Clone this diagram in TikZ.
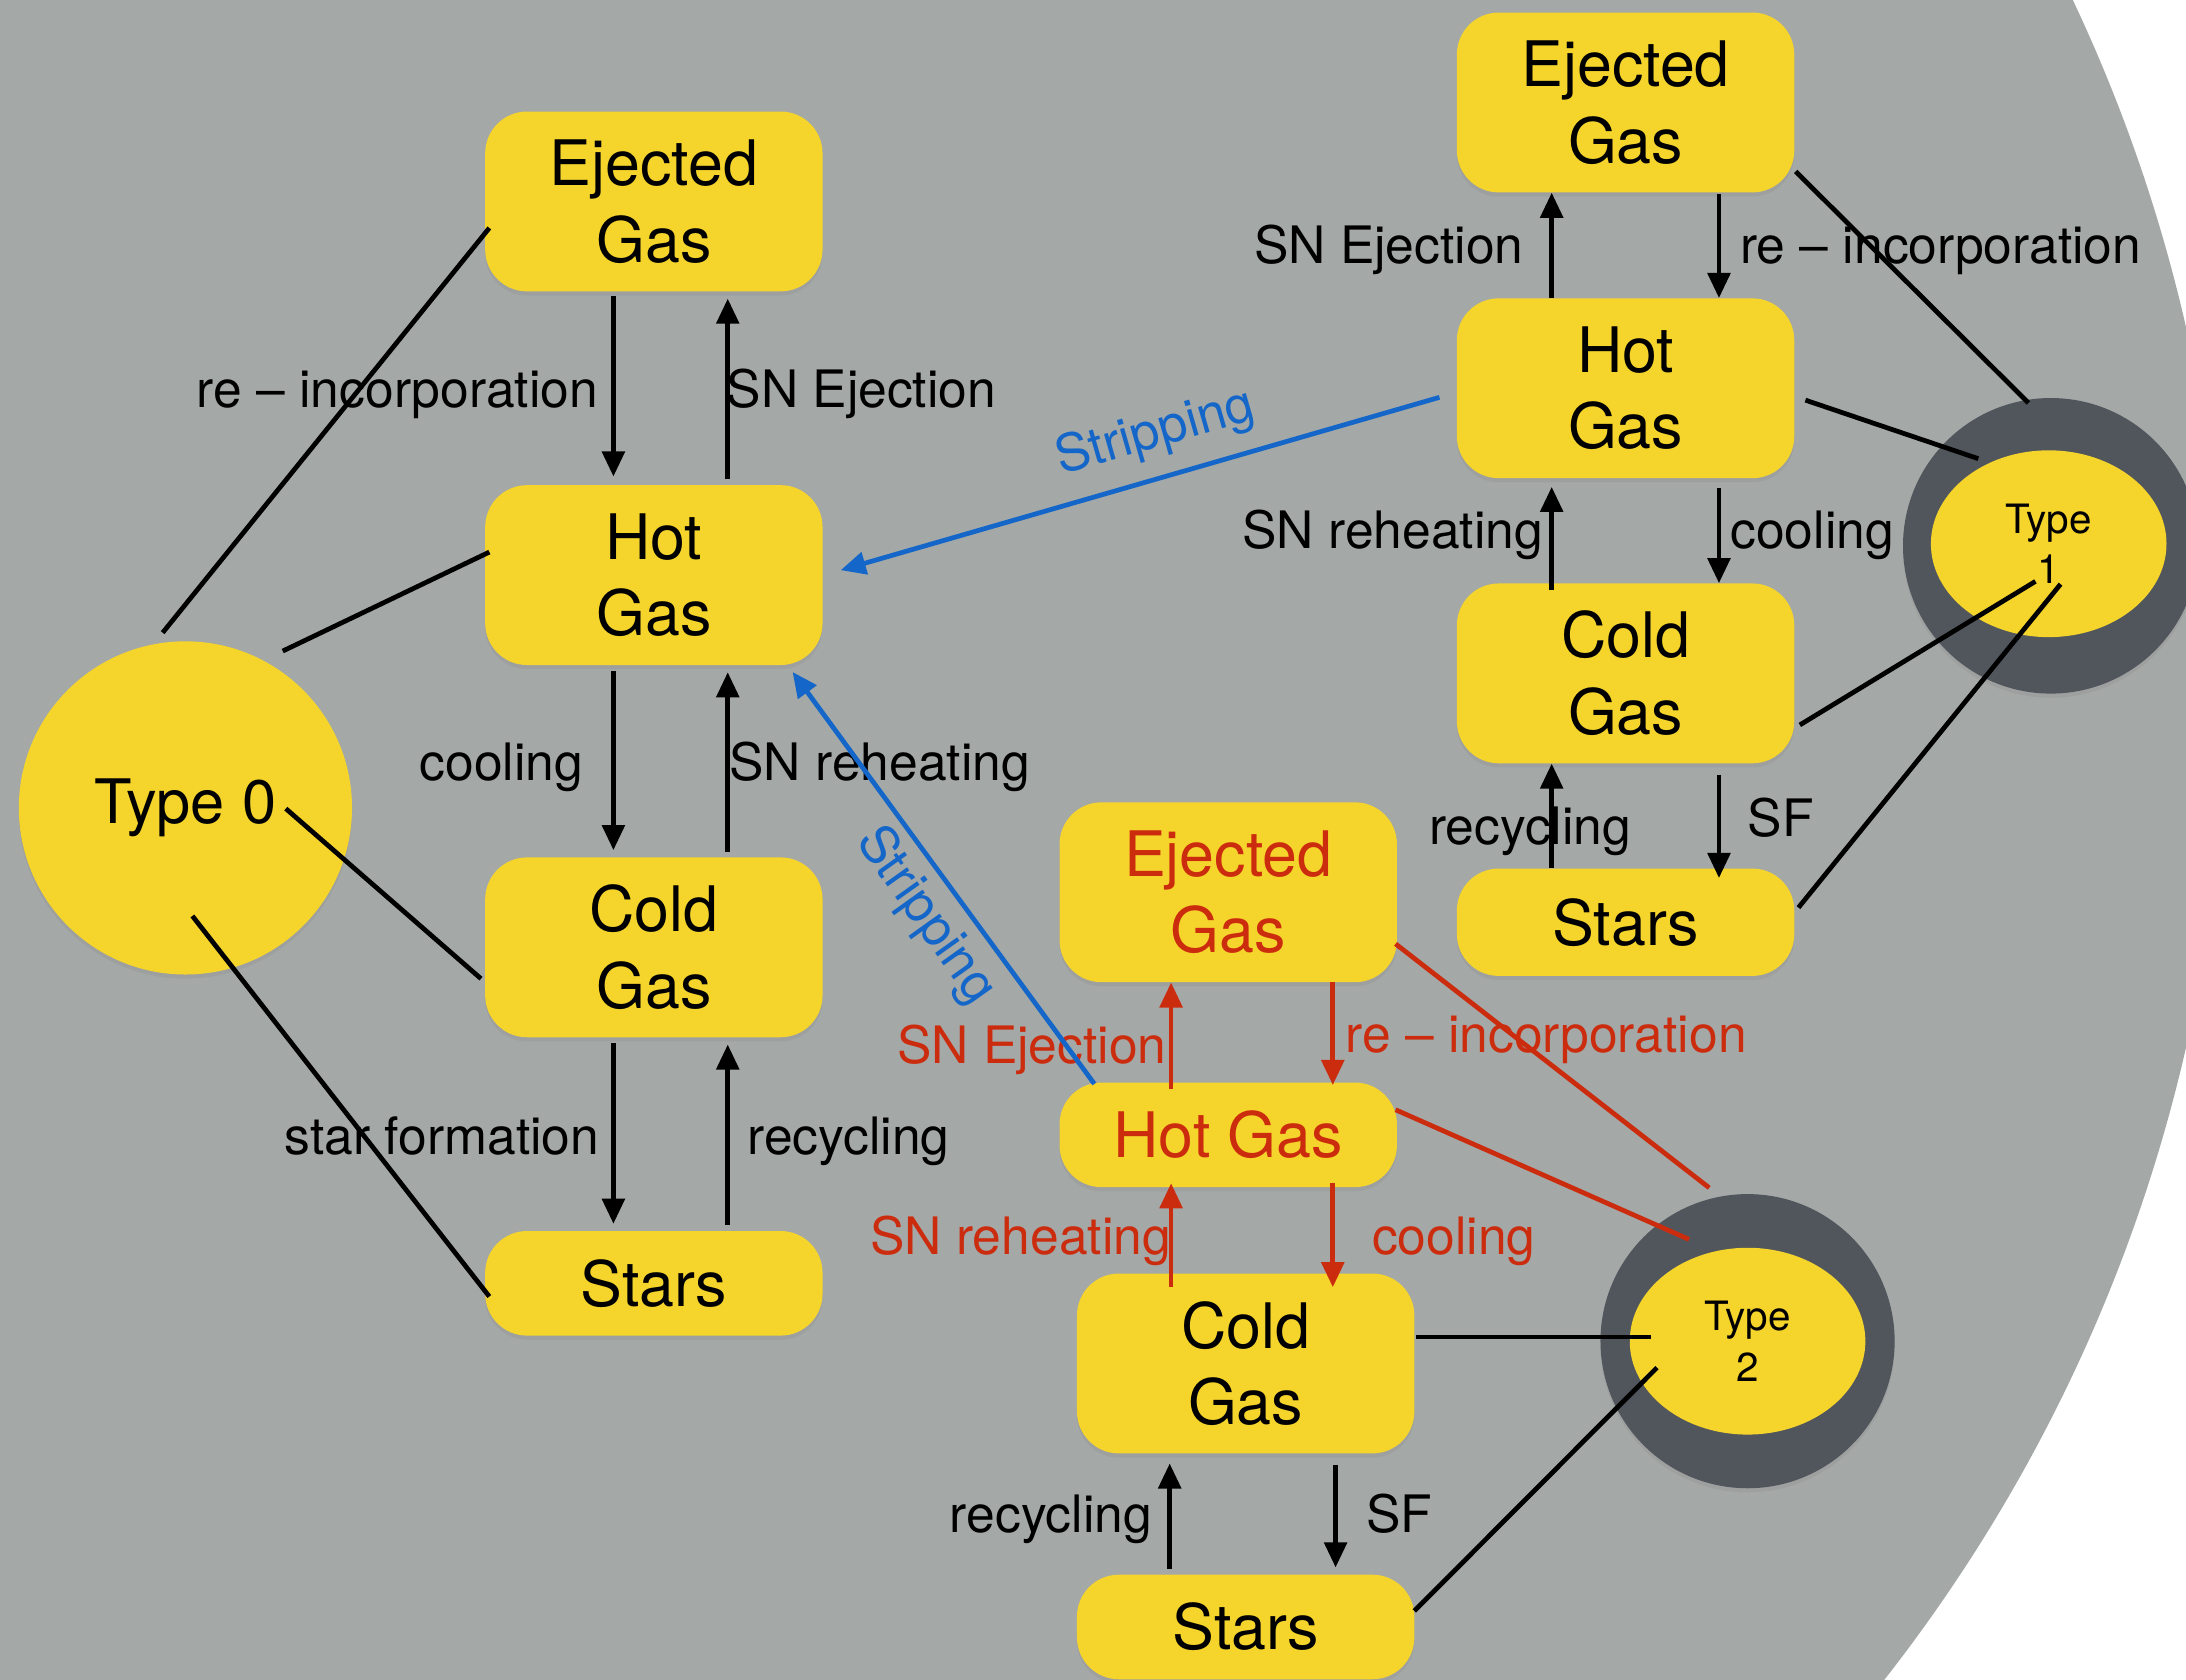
\documentclass[tikz,border=0pt]{standalone}
\usepackage{fontspec}
\setmainfont{TeX Gyre Heros}
\usetikzlibrary{arrows.meta,shadows,shapes.geometric}
\definecolor{bggray}{HTML}{A4A8A7}
\definecolor{boxyellow}{HTML}{F5D42C}
\definecolor{ringgray}{HTML}{51565D}
\definecolor{redc}{HTML}{CC2C0E}
\definecolor{bluec}{HTML}{1467C9}
\begin{document}
\begin{tikzpicture}[x=1pt,y=-1pt,
  box/.style={fill=boxyellow, rounded corners=30pt, minimum width=242pt, minimum height=129pt,
    inner sep=0pt, align=center, font=\fontsize{45}{55}\selectfont,
    drop shadow={opacity=0.18, shadow xshift=0pt, shadow yshift=-3pt}},
  shortbox/.style={box, minimum height=75pt},
  ring/.style={circle, fill=ringgray, inner sep=0pt, minimum size=212pt,
    drop shadow={opacity=0.18, shadow xshift=0pt, shadow yshift=-3pt}},
  typeell/.style={ellipse, fill=boxyellow, inner sep=0pt, minimum width=169pt, minimum height=134pt,
    align=center, font=\fontsize{29}{36}\selectfont},
  lbl/.style={font=\fontsize{37}{44}\selectfont, inner sep=0pt},
  arr/.style={line width=3.4pt, -{Triangle[length=18pt,width=16pt]}},
  link/.style={line width=3.4pt},
]
% background
\fill[white] (0,0) rectangle (1568,1205);
\begin{scope}
  \clip (0,0) rectangle (1568,1205);
  \fill[bggray] (442,493) circle[radius=1155];
\end{scope}
\useasboundingbox (0,0) rectangle (1568,1205);

% Type 0 chain
\node[circle, fill=boxyellow, minimum size=239pt, inner sep=0pt, font=\fontsize{44}{52}\selectfont,
  drop shadow={opacity=0.18, shadow xshift=0pt, shadow yshift=-3pt}] (t0) at (133,579.5) {Type 0};
\node[box] (ej0) at (469,144.5) {Ejected\\Gas};
\node[box] (hot0) at (469,412.5) {Hot\\Gas};
\node[box] (cold0) at (469,679.5) {Cold\\Gas};
\node[shortbox] (st0) at (469,920.5) {Stars};

% Type 1 chain
\node[box] (ej1) at (1166,73.5) {Ejected\\Gas};
\node[box] (hot1) at (1166,278.5) {Hot\\Gas};
\node[box] (cold1) at (1166,483) {Cold\\Gas};
\node[shortbox, minimum height=77pt] (st1) at (1166,661.5) {Stars};
\node[ring] (r1) at (1471,391.5) {};
\node[typeell] (t1) at (1469.5,390) {Type\\1};

% Type 2 chain
\node[box, text=redc] (ej2) at (881,640) {Ejected\\Gas};
\node[shortbox, text=redc] (hot2) at (881,814) {Hot Gas};
\node[box] (cold2) at (893.5,978) {Cold\\Gas};
\node[shortbox] (st2) at (893.5,1167) {Stars};
\node[ring, minimum size=211pt] (r2) at (1253.5,962) {};
\node[typeell] (t2) at (1253.5,962) {Type\\2};

% labels, left column
\node[lbl, anchor=base east] (l01) at (429,292.5) {re – incorporation};
\node[lbl, anchor=base west] (l02) at (521,292.5) {SN Ejection};
\node[lbl, anchor=base east] (l03) at (418.5,560) {cooling};
\node[lbl, anchor=base west] (l04) at (523,560) {SN reheating};
\node[lbl, anchor=base east] (l05) at (430,828) {star formation};
\node[lbl, anchor=base west] (l06) at (536,828) {recycling};
% labels, right column
\node[lbl, anchor=base east] (l11) at (1093,189) {SN Ejection};
\node[lbl, anchor=base west] (l12) at (1248,189) {re – incorporation};
\node[lbl, anchor=base east] (l13) at (1107,393.5) {SN reheating};
\node[lbl, anchor=base west] (l14) at (1241,393.5) {cooling};
\node[lbl, anchor=base west] (l15) at (1025,606) {recycling};
\node[lbl, anchor=base west] (l16) at (1253.5,600) {SF};
% labels, bottom chain
\node[lbl, anchor=base east, text=redc] (l21) at (837,763) {SN Ejection};
\node[lbl, anchor=base west, text=redc] (l22) at (965,755) {re – incorporation};
\node[lbl, anchor=base east, text=redc] (l23) at (840,900) {SN reheating};
\node[lbl, anchor=base west, text=redc] (l24) at (984,900) {cooling};
\node[lbl, anchor=base east] (l25) at (826.4,1099) {recycling};
\node[lbl, anchor=base west] (l26) at (980,1099) {SF};
% stripping labels
\node[lbl, text=bluec, rotate=16] (ls1) at (829,311) {Stripping};
\node[lbl, text=bluec, rotate=-54.5] (ls2) at (663.6,657) {Stripping};

% arrows, left column
\draw[arr, shorten <=3pt, shorten >=6pt] ([xshift=-29pt]ej0.south) -- ([xshift=-29pt]hot0.north);
\draw[arr, shorten <=4pt, shorten >=5pt] ([xshift=53pt]hot0.north) -- ([xshift=53pt]ej0.south);
\draw[arr, shorten <=4pt, shorten >=5pt] ([xshift=-29pt]hot0.south) -- ([xshift=-29pt]cold0.north);
\draw[arr, shorten <=4pt, shorten >=5pt] ([xshift=53pt]cold0.north) -- ([xshift=53pt]hot0.south);
\draw[arr, shorten <=4pt, shorten >=5pt] ([xshift=-29pt]cold0.south) -- ([xshift=-29pt]st0.north);
\draw[arr, shorten <=4pt, shorten >=5pt] ([xshift=53pt]st0.north) -- ([xshift=53pt]cold0.south);

% arrows, right column
\draw[arr] ([xshift=-53pt]hot1.north) -- ([xshift=-53pt]ej1.south);
\draw[arr, shorten <=1pt] ([xshift=67pt]ej1.south) -- ([xshift=67pt]hot1.north);
\draw[arr, shorten <=-5pt, shorten >=6pt] ([xshift=-53pt]cold1.north) -- ([xshift=-53pt]hot1.south);
\draw[arr, shorten <=7pt] ([xshift=67pt]hot1.south) -- ([xshift=67pt]cold1.north);
\draw[arr] ([xshift=-53pt]st1.north) -- ([xshift=-53pt]cold1.south);
\draw[arr, shorten <=8pt, shorten >=-7pt] ([xshift=67pt]cold1.south) -- ([xshift=67pt]st1.north);

% arrows, bottom chain
\draw[arr, redc, shorten <=-5pt] ([xshift=-41pt]hot2.north) -- ([xshift=-41pt]ej2.south);
\draw[arr, redc, shorten >=-2pt] ([xshift=75pt]ej2.south) -- ([xshift=75pt]hot2.north);
\draw[arr, redc, shorten <=-10pt, shorten >=-3pt] ([xshift=-53.5pt]cold2.north) -- ([xshift=-41pt]hot2.south);
\draw[arr, redc, shorten <=-3pt, shorten >=-10pt] ([xshift=75pt]hot2.south) -- ([xshift=62.5pt]cold2.north);
\draw[arr, shorten <=4pt, shorten >=7pt] ([xshift=-54.5pt]st2.north) -- ([xshift=-54.5pt]cold2.south);
\draw[arr, shorten <=8pt, shorten >=5pt] ([xshift=64.5pt]cold2.south) -- ([xshift=64.5pt]st2.north);

% links to Type 0
\draw[link] ([shift={(-16.3,-125.7)}]t0.center) -- ([shift={(-118,19)}]ej0.center);
\draw[link] ([shift={(69.8,-112.5)}]t0.center) -- ([shift={(-118,-16.5)}]hot0.center);
\draw[link] ([shift={(72,0.5)}]t0.center) -- ([shift={(-124,22.5)}]cold0.center);
\draw[link] ([shift={(5,77.5)}]t0.center) -- ([shift={(-118,9.5)}]st0.center);

% links to Type 1
\draw[link] ([shift={(122,49.5)}]ej1.center) -- ([shift={(-14.5,-101)}]t1.center);
\draw[link] ([shift={(129,8.5)}]hot1.center) -- ([shift={(-50.5,-61)}]t1.center);
\draw[link] ([shift={(125,37)}]cold1.center) -- ([shift={(-9.5,27)}]t1.center);
\draw[link] ([shift={(124,-10.5)}]st1.center) -- ([shift={(8.5,29)}]t1.center);

% links to Type 2
\draw[link, redc] ([shift={(120,37)}]ej2.center) -- ([shift={(-27.5,-110)}]t2.center);
\draw[link, redc] ([shift={(120,-18)}]hot2.center) -- ([shift={(-42,-73)}]t2.center);
\draw[link] ([shift={(122.5,-19)}]cold2.center) -- ([shift={(-69.5,-3)}]t2.center);
\draw[link] ([shift={(121,-11.5)}]st2.center) -- ([shift={(-65,19)}]t2.center);

% stripping arrows
\draw[arr, bluec] ([shift={(-133.5,6.5)}]hot1.center) -- ([shift={(134,-3.5)}]hot0.center);
\draw[arr, bluec] ([shift={(-96,-36.5)}]hot2.center) -- ([shift={(99.5,69.5)}]hot0.center);
\end{tikzpicture}
\end{document}
